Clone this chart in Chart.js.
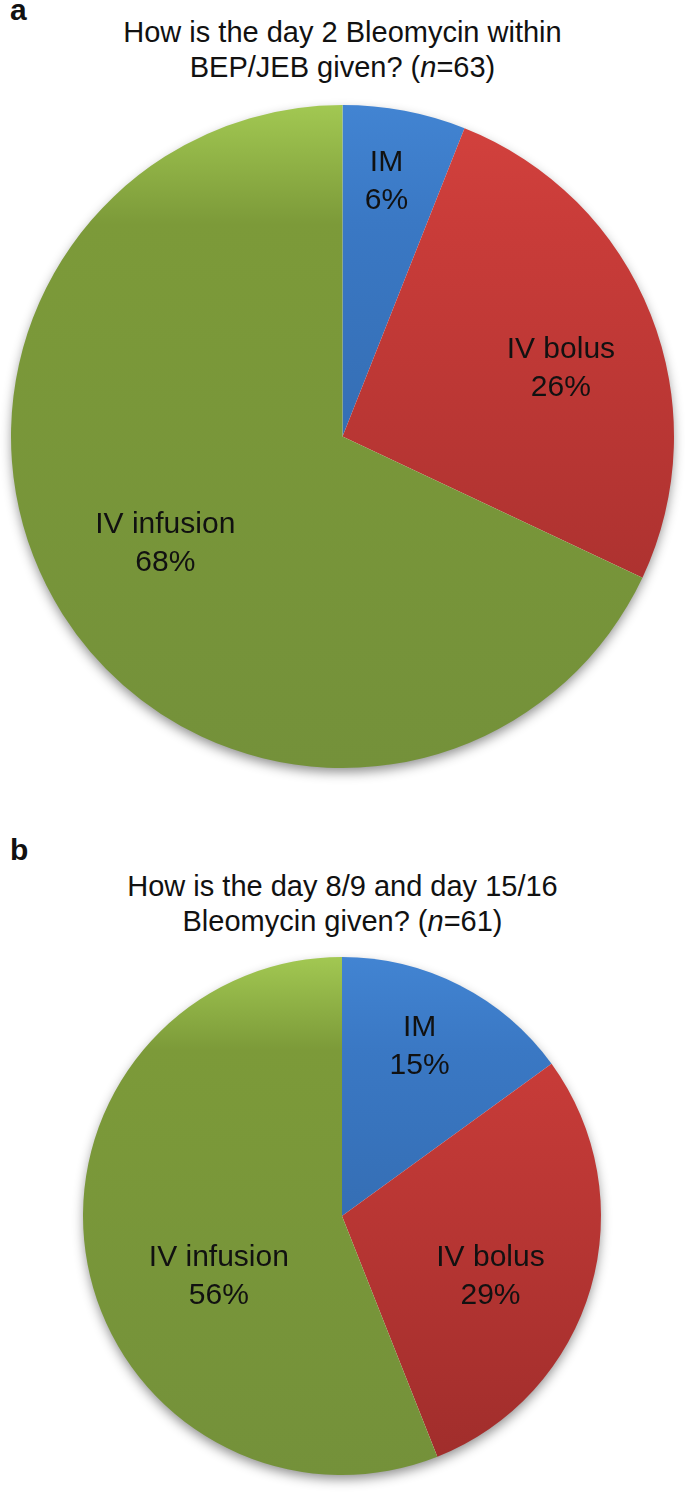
<!DOCTYPE html>
<html>
<head>
<meta charset="utf-8">
<script src="https://cdn.jsdelivr.net/npm/chart.js@4.4.1/dist/chart.umd.min.js"></script>
<style>
  html, body { margin: 0; padding: 0; background: #fff; }
  body { width: 685px; height: 1499px; position: relative; overflow: hidden;
         font-family: "Liberation Sans", Arial, sans-serif; color: #111; }
  .panel { position: absolute; left: 10px; font-weight: bold; font-size: 30px; line-height: 30px; }
  .title { position: absolute; left: 0; width: 685px; text-align: center;
           font-size: 29px; line-height: 35px; }
  .wrap { position: absolute; left: 0; width: 685px; }
</style>
</head>
<body>
<div class="panel" style="top:-5px">a</div>
<div class="title" style="top:15px">How is the day 2 Bleomycin within<br>BEP/JEB given? (<i>n</i>=63)</div>
<div class="wrap" style="top:95px; height:695px"><canvas id="pieA"></canvas></div>

<div class="panel" style="top:835px">b</div>
<div class="title" style="top:869px">How is the day 8/9 and day 15/16<br>Bleomycin given? (<i>n</i>=61)</div>
<div class="wrap" style="top:945px; height:552px"><canvas id="pieB"></canvas></div>

<script>
// Data
const categories = ["IM", "IV bolus", "IV infusion"];
const day2Values = [6, 26, 68];
const day8Values = [15, 29, 56];

// gradient stops per slice (top -> bottom)
const sliceColors = [
    ["#4284d2", "#3a78c4", "#2d5f9c"],
    ["#d4423e", "#c93c39", "#9f2d2b"],
    ["#a2c852", "#7c9a39", "#74913a"]
];

// label placement: radius fraction + angle nudge (degrees)
const labelPosA = [{ r: 0.78, da: -1 }, { r: 0.69, da: 4.3 }, { r: 0.625, da: 1.2 }];
const labelPosB = [{ r: 0.72, da: -2.4 }, { r: 0.62, da: 6.2 }, { r: 0.53, da: -15.4 }];

Chart.defaults.font.family = '"Liberation Sans", Arial, sans-serif';

function sliceGradient(c) {
    const area = c.chart.chartArea;
    const stops = sliceColors[c.dataIndex];
    if (!area) return stops[1];
    const g = c.chart.ctx.createLinearGradient(0, area.top, 0, area.bottom);
    g.addColorStop(0, stops[0]);
    g.addColorStop(0.18, stops[1]);
    g.addColorStop(1, stops[2]);
    return g;
}

// soft shadow under the pie
const shadowPlugin = {
    id: "pieShadow",
    beforeDatasetsDraw(chart) {
        const arc = chart.getDatasetMeta(0).data[0];
        if (!arc) return;
        const ctx = chart.ctx;
        ctx.save();
        ctx.shadowColor = "rgba(0,0,0,0.45)";
        ctx.shadowBlur = 12;
        ctx.shadowOffsetY = 5;
        ctx.fillStyle = "#fff";
        ctx.beginPath();
        ctx.arc(arc.x, arc.y, arc.outerRadius - 1, 0, Math.PI * 2);
        ctx.fill();
        ctx.restore();
    }
};

// slice labels: name + percent
const labelPlugin = {
    id: "sliceLabels",
    afterDatasetsDraw(chart, args, opts) {
        const ctx = chart.ctx;
        const values = chart.data.datasets[0].data;
        ctx.save();
        ctx.font = '30px "Liberation Sans", Arial, sans-serif';
        ctx.fillStyle = "#111";
        ctx.textAlign = "center";
        ctx.textBaseline = "middle";
        chart.getDatasetMeta(0).data.forEach((arc, i) => {
            const p = opts.pos[i];
            const mid = (arc.startAngle + arc.endAngle) / 2 + p.da * Math.PI / 180;
            const x = arc.x + Math.cos(mid) * arc.outerRadius * p.r;
            const y = arc.y + Math.sin(mid) * arc.outerRadius * p.r;
            ctx.fillText(chart.data.labels[i], x, y - 19);
            ctx.fillText(values[i] + "%", x, y + 19);
        });
        ctx.restore();
    }
};

function makePie(id, values, pos, pad) {
    return new Chart(document.getElementById(id), {
        type: "pie",
        data: {
            labels: categories,
            datasets: [{
                data: values,
                backgroundColor: sliceGradient,
                borderWidth: 0,
                hoverOffset: 0,
                offset: 0
            }]
        },
        options: {
            responsive: true,
            maintainAspectRatio: false,
            animation: false,
            layout: { padding: pad },
            plugins: {
                legend: { display: false },
                tooltip: { enabled: false },
                sliceLabels: { pos: pos }
            }
        },
        plugins: [shadowPlugin, labelPlugin]
    });
}

makePie("pieA", day2Values, labelPosA, { top: 10, bottom: 22, left: 11, right: 11 });
makePie("pieB", day8Values, labelPosB, { top: 12, bottom: 22, left: 83, right: 84 });
</script>
</body>
</html>
